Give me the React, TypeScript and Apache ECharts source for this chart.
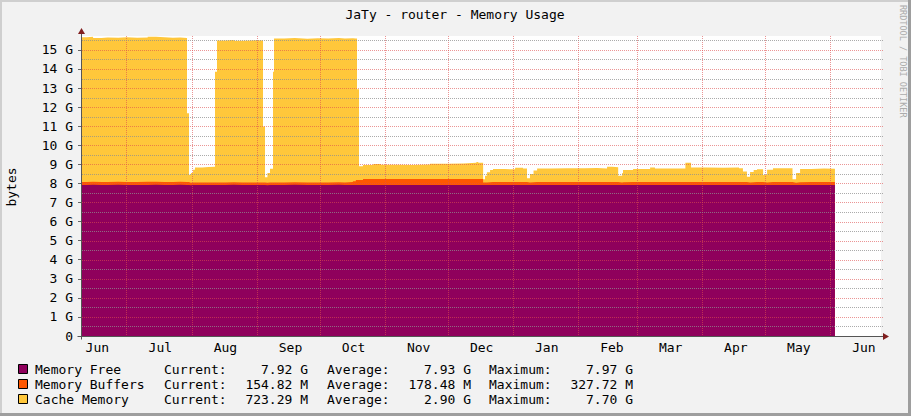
import React, { useEffect, useRef } from 'react';
import * as echarts from 'echarts';

const FONT = '"DejaVu Sans Mono", monospace';

// x: days since 1 June of the first year
const dayOffsets = [
  8.24, 11, 14, 18, 21, 26, 30, 35, 40, 44, 48, 52, 55.5, 58.71, 59.66, 60.6, 61.6, 62.5, 66, 69,
  72.04, 72.99, 77, 81, 85, 89, 92.5, 94.9, 95.85, 97, 98.23, 99.66, 100.14, 105, 110, 116, 121, 126, 131, 133.9,
  137.7, 139.1, 139.65, 140.6, 142.5, 147.4, 151, 158.6, 166, 174.4, 182.4, 190.3, 196.5, 197.4, 199.7, 200.6, 201.5, 203, 204.4, 210,
  214.9, 218.7, 220.6, 222, 223.7, 225.4, 232, 240, 248, 254, 258.7, 261.1, 264, 265.9, 266.3, 271.1, 279.2, 281.5, 296, 298.7,
  306, 314, 321.5, 323.4, 325.3, 326.8, 328.5, 330.1, 333, 334.9, 337.7, 342, 347, 348.7, 350.6, 356, 362, 367.2,
];

// Memory Free (G)
const memFree = [
  7.92, 7.93, 7.92, 7.92, 7.93, 7.92, 7.92, 7.92, 7.93, 7.92, 7.92, 7.93, 7.92, 7.92, 7.91, 7.92, 7.92, 7.92, 7.92, 7.92,
  7.92, 7.92, 7.93, 7.92, 7.92, 7.92, 7.92, 7.92, 7.91, 7.92, 7.92, 7.92, 7.92, 7.93, 7.92, 7.92, 7.92, 7.93, 7.92, 7.92,
  7.92, 7.92, 7.92, 7.92, 7.92, 7.92, 7.92, 7.92, 7.92, 7.92, 7.92, 7.92, 7.92, 7.92, 7.92, 7.92, 7.92, 7.92, 7.92, 7.92,
  7.92, 7.92, 7.92, 7.92, 7.92, 7.92, 7.92, 7.92, 7.92, 7.92, 7.92, 7.92, 7.92, 7.92, 7.92, 7.92, 7.92, 7.92, 7.92, 7.92,
  7.92, 7.92, 7.92, 7.92, 7.92, 7.92, 7.92, 7.92, 7.92, 7.92, 7.92, 7.92, 7.92, 7.92, 7.92, 7.92, 7.92, 7.92,
];

// Memory Buffers (G)
const memBuffers = [
  0.16, 0.16, 0.15, 0.16, 0.16, 0.16, 0.16, 0.17, 0.16, 0.16, 0.16, 0.16, 0.16, 0.15, 0.13, 0.13, 0.13, 0.13, 0.13, 0.13,
  0.13, 0.13, 0.13, 0.13, 0.13, 0.13, 0.13, 0.13, 0.12, 0.13, 0.13, 0.13, 0.13, 0.13, 0.13, 0.13, 0.13, 0.13, 0.13, 0.15,
  0.2, 0.26, 0.26, 0.26, 0.31, 0.31, 0.31, 0.31, 0.31, 0.31, 0.31, 0.31, 0.31, 0.31, 0.13, 0.13, 0.14, 0.15, 0.15, 0.15,
  0.15, 0.15, 0.13, 0.14, 0.15, 0.15, 0.15, 0.15, 0.15, 0.15, 0.15, 0.15, 0.13, 0.14, 0.15, 0.15, 0.15, 0.15, 0.15, 0.15,
  0.15, 0.15, 0.15, 0.15, 0.13, 0.14, 0.15, 0.15, 0.13, 0.15, 0.15, 0.15, 0.12, 0.14, 0.15, 0.15, 0.15, 0.15,
];

// Top of the stack (Free + Buffers + Cache), G
const stackTop = [
  15.66, 15.69, 15.63, 15.65, 15.64, 15.66, 15.64, 15.65, 15.69, 15.66, 15.64, 15.65, 15.63, 11.68, 8.45, 8.55, 8.72, 8.84, 8.86, 8.88,
  13.86, 15.5, 15.52, 15.48, 15.5, 15.51, 15.49, 10.98, 8.33, 8.55, 8.77, 13.86, 15.6, 15.62, 15.59, 15.61, 15.6, 15.62, 15.6, 15.61,
  15.6, 15.6, 12.94, 8.9, 8.96, 9.02, 8.98, 8.97, 8.99, 9.03, 9.05, 9.08, 9.12, 9.08, 8.22, 8.4, 8.58, 8.71, 8.75, 8.74,
  8.82, 8.78, 8.27, 8.5, 8.68, 8.78, 8.8, 8.79, 8.81, 8.78, 8.88, 8.85, 8.4, 8.55, 8.7, 8.75, 8.83, 8.78, 9.09, 8.84,
  8.82, 8.84, 8.8, 8.62, 8.35, 8.6, 8.7, 8.74, 8.44, 8.72, 8.8, 8.8, 8.22, 8.55, 8.76, 8.78, 8.77, 8.78,
];

const monthStarts = [30, 61, 92, 122, 153, 183, 214, 245, 273, 304, 334, 365];
const monthLabelDays = [16, 46, 77, 108, 138, 169, 199, 230, 261, 289, 320, 350, 381];
const monthLabels = ['Jun', 'Jul', 'Aug', 'Sep', 'Oct', 'Nov', 'Dec', 'Jan', 'Feb', 'Mar', 'Apr', 'May', 'Jun'];

const yTicks = [0, 1, 2, 3, 4, 5, 6, 7, 8, 9, 10, 11, 12, 13, 14, 15];
const yGridTicks = [
  0.5, 1, 1.5, 2, 2.5, 3, 3.5, 4, 4.5, 5, 5.5, 6, 6.5, 7, 7.5,
  8, 8.5, 9, 9.5, 10, 10.5, 11, 11.5, 12, 12.5, 13, 13.5, 14, 14.5, 15, 15.5,
];

const seriesNames = ['Memory Free', 'Memory Buffers', 'Cache Memory'];
const seriesColors = ['#8F005C', '#FF5700', '#FFC73B'];
const currentVals = ['7.92 G', '154.82 M', '723.29 M'];
const averageVals = ['7.93 G', '178.48 M', '2.90 G'];
const maximumVals = ['7.97 G', '327.72 M', '7.70 G'];

const X_MIN = 8.24;
const X_MAX = 389.13;
const Y_MAX = 15.73;

export default function App() {
  const ref = useRef<HTMLDivElement>(null);

  useEffect(() => {
    const chart = echarts.init(ref.current!, null, { renderer: 'svg' });
    const freeTop = memFree.slice();
    const buffersTop = memFree.map((f, i) => +(f + memBuffers[i]).toFixed(3));
    const cacheTop = stackTop.slice();
    const bandTops = [freeTop, buffersTop, cacheTop];
    const pts = (vals: number[]) => dayOffsets.map((d, i) => [d, vals[i]]);

    const txt = (text: string, x: number, y: number, align = 'left', size = 13, fill = '#000', extra: any = {}) => ({
      type: 'text',
      x,
      y,
      silent: true,
      z: 100,
      ...extra,
      style: { text, fill, fontFamily: FONT, fontSize: size, align, verticalAlign: 'middle' },
    });

    const graphics: any[] = [
      { type: 'rect', shape: { x: 0, y: 0, width: 911, height: 2 }, style: { fill: '#CFCFCF' }, silent: true },
      { type: 'rect', shape: { x: 0, y: 0, width: 2, height: 416 }, style: { fill: '#CFCFCF' }, silent: true },
      { type: 'rect', shape: { x: 0, y: 413, width: 911, height: 3 }, style: { fill: '#9E9E9E' }, silent: true },
      { type: 'rect', shape: { x: 908, y: 0, width: 3, height: 416 }, style: { fill: '#9E9E9E' }, silent: true },
      txt('JaTy - router - Memory Usage', 455, 14.5, 'center'),
      txt('bytes', 11, 187, 'center', 13, '#000', { rotation: Math.PI / 2 }),
      txt('RRDTOOL / TOBI OETIKER', 903, 5, 'left', 8.5, '#ABABAB', { rotation: -Math.PI / 2 }),
    ];

    const rowY = [369, 384, 399];
    seriesNames.forEach((name, i) => {
      const y = rowY[i];
      graphics.push({
        type: 'rect',
        shape: { x: 18.5, y: y - 4.5, width: 9, height: 9 },
        style: { fill: seriesColors[i], stroke: '#000', lineWidth: 1 },
        silent: true,
      });
      graphics.push(txt(name, 35, y));
      graphics.push(txt('Current:', 164, y));
      graphics.push(txt(currentVals[i], 308, y, 'right'));
      graphics.push(txt('Average:', 327, y));
      graphics.push(txt(averageVals[i], 471, y, 'right'));
      graphics.push(txt('Maximum:', 489, y));
      graphics.push(txt(maximumVals[i], 633, y, 'right'));
    });

    const MAJOR = 'rgba(222,79,79,0.6)';
    const MINOR = 'rgba(143,143,143,0.75)';
    const order = [2, 1, 0];

    chart.setOption({
      animation: false,
      backgroundColor: '#F2F2F2',
      grid: {
        left: 81,
        right: 30,
        top: 36,
        bottom: 80,
        show: true,
        backgroundColor: '#FFFFFF',
        borderWidth: 0,
      },
      xAxis: {
        type: 'value',
        min: X_MIN,
        max: X_MAX,
        z: 5,
        axisLine: { show: true, lineStyle: { color: '#555', width: 1 } },
        axisTick: { show: false, customValues: monthStarts },
        axisLabel: {
          customValues: monthLabelDays,
          formatter: (v: number) => {
            const k = monthLabelDays.indexOf(v);
            return k >= 0 ? monthLabels[k] : '';
          },
          fontFamily: FONT,
          fontSize: 13,
          color: '#000',
          margin: 5,
        },
        splitLine: { show: true, lineStyle: { color: MAJOR, type: [1, 1], width: 1 } },
      },
      yAxis: {
        type: 'value',
        min: 0,
        max: Y_MAX,
        z: 5,
        axisLine: { show: true, lineStyle: { color: '#555', width: 1 } },
        axisTick: { show: true, length: 3, customValues: yTicks, lineStyle: { color: '#666' } },
        axisLabel: {
          customValues: yTicks,
          formatter: (v: number) => (v === 0 ? '0' : `${v} G`),
          fontFamily: FONT,
          fontSize: 13,
          color: '#000',
          margin: 8,
        },
        splitLine: { show: false },
      },
      series: order.map((i) => ({
        name: seriesNames[i],
        type: 'line',
        step: 'end',
        symbol: 'none',
        silent: true,
        z: 2,
        color: seriesColors[i],
        lineStyle: { width: 0, opacity: 0 },
        areaStyle: { color: seriesColors[i], opacity: 1, origin: 'start' },
        data: pts(bandTops[i]),
      })),
    });

    // Horizontal grid lines placed through the chart's own y scale, drawn over the areas
    const toPx = (x: number, y: number) => chart.convertToPixel({ gridIndex: 0 }, [x, y]) as number[];
    const [left, bottom] = toPx(X_MIN, 0);
    const [right, top] = toPx(X_MAX, Y_MAX);
    const gridLines = yGridTicks.map((v) => {
      const y = Math.round(toPx(X_MIN, v)[1]) + 0.5;
      const major = Number.isInteger(v);
      return {
        type: 'line',
        silent: true,
        z: 50,
        shape: { x1: left + 1, y1: y, x2: right + 2, y2: y },
        style: { stroke: major ? MAJOR : MINOR, lineWidth: 1, lineDash: [1, 1] },
      };
    });
    const ax = Math.round(left) + 0.5;
    const ay = Math.round(bottom) + 0.5;
    const axisExtras = [
      { type: 'line', silent: true, z: 60, shape: { x1: ax, y1: top - 3, x2: ax, y2: top }, style: { stroke: '#555', lineWidth: 1 } },
      { type: 'polygon', silent: true, z: 60, shape: { points: [[ax - 3.5, top - 2], [ax + 3.5, top - 2], [ax, top - 8]] }, style: { fill: '#801F1F' } },
      { type: 'line', silent: true, z: 60, shape: { x1: ax - 4, y1: ay, x2: ax, y2: ay }, style: { stroke: '#555', lineWidth: 1 } },
      { type: 'line', silent: true, z: 60, shape: { x1: right, y1: ay, x2: right + 3, y2: ay }, style: { stroke: '#555', lineWidth: 1 } },
      { type: 'line', silent: true, z: 60, shape: { x1: ax, y1: ay, x2: ax, y2: ay + 3 }, style: { stroke: '#555', lineWidth: 1 } },
      { type: 'polygon', silent: true, z: 60, shape: { points: [[right + 2, ay - 3.5], [right + 2, ay + 3.5], [right + 8, ay]] }, style: { fill: '#801F1F' } },
    ];

    chart.setOption({ graphic: [...graphics, ...gridLines, ...axisExtras] });

    return () => chart.dispose();
  }, []);

  return <div ref={ref} style={{ position: 'absolute', left: 0, top: 0, width: 911, height: 416 }} />;
}
